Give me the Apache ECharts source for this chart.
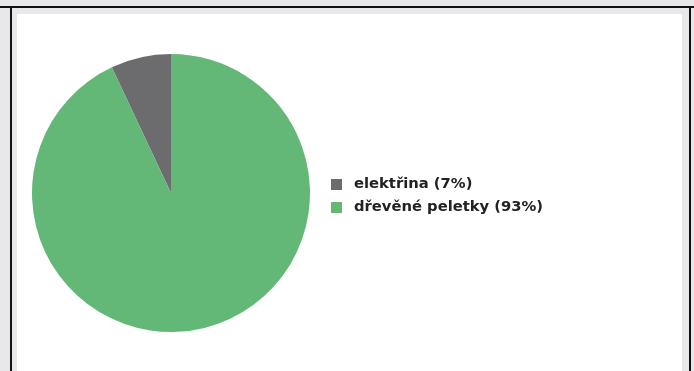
<!DOCTYPE html>
<html>
<head>
<meta charset="utf-8" />
<title>elektřina / dřevěné peletky</title>
<script src="https://cdn.jsdelivr.net/npm/echarts@6/dist/echarts.min.js"></script>
<style>
  html, body { margin: 0; padding: 0; }
  body { width: 694px; height: 371px; background: #e8e8ea; position: relative; overflow: hidden; }
  .line { position: absolute; background: #111; }
  #main { position: absolute; left: 17px; top: 14px; width: 665px; height: 357px; background: #fff; }
</style>
</head>
<body>
<div class="line" style="left:0;top:6px;width:694px;height:2px;"></div>
<div class="line" style="left:10px;top:6px;width:2px;height:365px;"></div>
<div class="line" style="left:689px;top:6px;width:2px;height:365px;"></div>
<div id="main"></div>
<script type="text/javascript">
    // data
    var categories = ['elektřina', 'dřevěné peletky'];
    var values = [7, 93];
    var colors = ['#6c6b6e', '#63b877'];

    var pieData = [];
    for (var i = 0; i < categories.length; i++) {
        pieData.push({ name: categories[i], value: values[i], itemStyle: { color: colors[i] } });
    }
    var total = values.reduce(function (a, b) { return a + b; }, 0);

    var myChart = echarts.init(document.getElementById('main'));
    var option = {
        animation: false,
        legend: {
            orient: 'vertical',
            left: 309,
            top: 158,
            icon: 'rect',
            itemWidth: 11,
            itemHeight: 11,
            itemGap: 8,
            textStyle: {
                fontFamily: 'DejaVu Sans', fontSize: 14.75, fontWeight: 'bold', color: '#222',
                padding: [0, 0, 0, 7]
            },
            formatter: function (name) {
                var v = values[categories.indexOf(name)];
                return name + ' (' + Math.round(v / total * 100) + '%)';
            },
            data: categories
        },
        series: [
            {
                type: 'pie',
                center: [154, 179],
                radius: 139,
                startAngle: 90,
                clockwise: false,
                label: { show: false },
                labelLine: { show: false },
                emphasis: { disabled: true },
                data: pieData
            }
        ]
    };
    myChart.setOption(option);
</script>
</body>
</html>
